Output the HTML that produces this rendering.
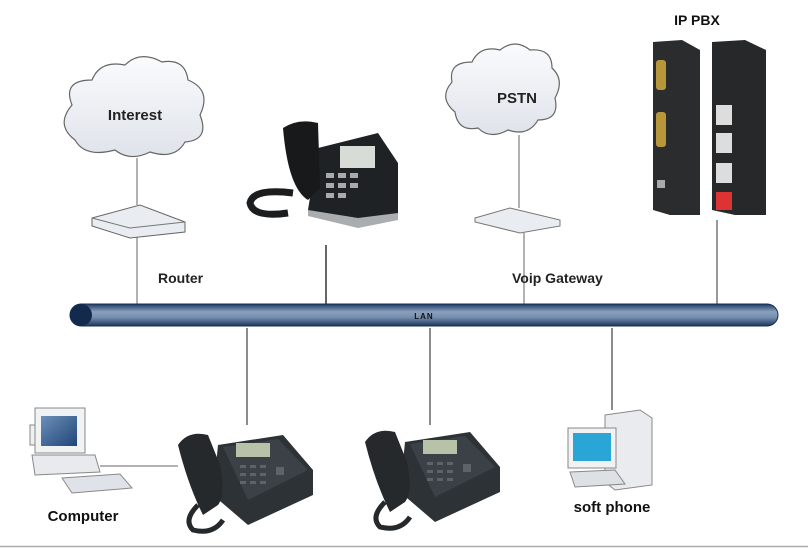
<!DOCTYPE html>
<html><head><meta charset="utf-8"><style>
html,body{margin:0;padding:0;background:#fff;}
svg{display:block;font-family:"Liberation Sans",sans-serif;}
</style></head><body>
<svg width="808" height="549" viewBox="0 0 808 549" xmlns="http://www.w3.org/2000/svg">
<defs>
<linearGradient id="bar" x1="0" y1="0" x2="0" y2="1">
<stop offset="0" stop-color="#1e3a66"/><stop offset="0.35" stop-color="#8a9fbb"/><stop offset="0.6" stop-color="#7890b0"/><stop offset="1" stop-color="#1b355f"/>
</linearGradient>
<linearGradient id="cl" x1="0" y1="0" x2="0" y2="1"><stop offset="0" stop-color="#fafbfd"/><stop offset="1" stop-color="#dfe3ea"/></linearGradient>
<linearGradient id="scr" x1="0" y1="0" x2="1" y2="1"><stop offset="0" stop-color="#6d8fb8"/><stop offset="1" stop-color="#1f4578"/></linearGradient>
<g id="phone">
<path d="M40 20 L105 10 L135 45 L135 70 L70 100 L35 70 Z" fill="#2d3236"/>
<path d="M45 22 L100 14 L130 45 L70 75 Z" fill="#3b4146"/>
<rect x="58" y="18" width="34" height="14" fill="#b7c2a8" transform="skew(-10)"/>
<path d="M0 20 Q10 5 30 10 L42 40 Q48 70 40 80 L25 90 Q10 60 0 20Z" fill="#25292c"/>
<path d="M20 80 Q5 95 15 105 Q35 110 45 95" fill="none" stroke="#25292c" stroke-width="5"/>
<g fill="#5c646a"><rect x="62" y="40" width="6" height="3"/><rect x="72" y="40" width="6" height="3"/><rect x="82" y="40" width="6" height="3"/><rect x="62" y="48" width="6" height="3"/><rect x="72" y="48" width="6" height="3"/><rect x="82" y="48" width="6" height="3"/><rect x="62" y="56" width="6" height="3"/><rect x="72" y="56" width="6" height="3"/><rect x="82" y="56" width="6" height="3"/><rect x="98" y="42" width="8" height="8"/></g>
</g>
</defs>
<rect width="808" height="549" fill="#fff"/>
<!-- connectors -->
<g stroke="#999" stroke-width="1.5" fill="none">
<line x1="137" y1="158" x2="137" y2="205"/>
<line x1="137" y1="232" x2="137" y2="305"/>
<line x1="519" y1="135" x2="519" y2="208"/>
<line x1="524" y1="233" x2="524" y2="305"/>
<line x1="717" y1="220" x2="717" y2="305" stroke="#777"/>
<line x1="326" y1="245" x2="326" y2="305" stroke="#333"/>
<line x1="247" y1="328" x2="247" y2="425" stroke="#666"/>
<line x1="430" y1="328" x2="430" y2="425" stroke="#666"/>
<line x1="612" y1="328" x2="612" y2="410" stroke="#666"/>
<line x1="100" y1="466" x2="178" y2="466"/>
</g>
<!-- LAN bar -->
<rect x="70" y="304" width="708" height="22" rx="11" fill="url(#bar)" stroke="#1a2f52" stroke-width="1"/>
<ellipse cx="81" cy="315" rx="11" ry="11" fill="#142a4c"/>
<text x="424" y="319" font-size="8" font-weight="bold" text-anchor="middle" fill="#111" letter-spacing="1">LAN</text>
<!-- clouds -->
<path d="M75 140 Q55 125 72 105 Q62 80 92 80 Q100 60 125 65 Q140 50 162 62 Q185 58 188 80 Q212 90 200 115 Q210 140 185 142 Q175 160 150 152 Q130 162 115 150 Q85 158 75 140Z" fill="url(#cl)" stroke="#666" stroke-width="1.2"/>
<text x="135" y="120" font-size="15" font-weight="bold" text-anchor="middle" fill="#222">Interest</text>
<path d="M455 112 Q438 98 452 82 Q448 62 472 62 Q480 45 500 50 Q515 38 530 50 Q552 48 552 68 Q565 80 555 98 Q560 120 538 120 Q528 137 508 130 Q490 140 478 128 Q458 132 455 112Z" fill="url(#cl)" stroke="#666" stroke-width="1.2"/>
<text x="517" y="103" font-size="15" font-weight="bold" text-anchor="middle" fill="#222">PSTN</text>
<!-- router -->
<path d="M92 218 L140 205 L185 222 L185 232 L130 238 L92 226Z" fill="#e9ecf1" stroke="#666"/>
<path d="M92 218 L130 228 L185 222" fill="none" stroke="#777"/>
<!-- gateway -->
<path d="M475 218 L510 208 L560 220 L560 226 L520 233 L475 222Z" fill="#e9ecf1" stroke="#777"/>
<!-- IP PBX -->
<text x="697" y="25" font-size="14" font-weight="bold" text-anchor="middle" fill="#111">IP PBX</text>
<path d="M653 42 L682 40 L700 50 L700 215 L670 215 L653 210Z" fill="#2a2c2e"/>
<rect x="656" y="60" width="10" height="30" rx="3" fill="#b8963a"/>
<rect x="656" y="112" width="10" height="35" rx="3" fill="#b8963a"/>
<rect x="657" y="180" width="8" height="8" fill="#aaa"/>
<path d="M712 42 L745 40 L766 50 L766 215 L735 215 L712 210Z" fill="#262829"/>
<rect x="716" y="105" width="16" height="20" fill="#ddd"/>
<rect x="716" y="133" width="16" height="20" fill="#ddd"/>
<rect x="716" y="163" width="16" height="20" fill="#ddd"/>
<rect x="716" y="192" width="16" height="18" fill="#d33"/>
<!-- desk phone top -->
<g transform="translate(248,118)">
<path d="M70 30 L130 15 L150 45 L150 100 L110 108 L60 92Z" fill="#1f2225"/>
<path d="M60 92 L110 100 L150 95 L150 102 L110 110 L60 98Z" fill="#a9adb0"/>
<rect x="92" y="28" width="35" height="22" fill="#d8dcd6"/>
<path d="M35 10 Q50 0 70 5 L72 70 L60 82 Q40 70 35 10Z" fill="#17191b"/>
<path d="M45 75 Q5 70 2 85 Q5 100 40 95" fill="none" stroke="#1b1d1f" stroke-width="7"/>
<g fill="#aaa"><rect x="78" y="55" width="8" height="5"/><rect x="90" y="55" width="8" height="5"/><rect x="102" y="55" width="8" height="5"/><rect x="78" y="65" width="8" height="5"/><rect x="90" y="65" width="8" height="5"/><rect x="102" y="65" width="8" height="5"/><rect x="78" y="75" width="8" height="5"/><rect x="90" y="75" width="8" height="5"/></g>
</g>
<text x="158" y="283" font-size="14" font-weight="bold" fill="#222">Router</text>
<text x="512" y="283" font-size="14" font-weight="bold" fill="#222">Voip Gateway</text>
<!-- lower phones -->
<g transform="translate(178,425)"><use href="#phone"/></g>
<g transform="translate(365,422)"><use href="#phone"/></g>
<!-- computer -->
<g>
<rect x="30" y="425" width="50" height="20" fill="#eef0f2" stroke="#888"/>
<rect x="35" y="408" width="50" height="45" fill="#f1f2f4" stroke="#888"/>
<rect x="41" y="416" width="36" height="30" fill="url(#scr)"/>
<path d="M32 455 L95 455 L100 472 L35 475Z" fill="#e8eaee" stroke="#888"/>
<path d="M62 478 L120 474 L132 488 L72 493Z" fill="#dfe2e8" stroke="#888"/>
</g>
<text x="83" y="521" font-size="15" font-weight="bold" text-anchor="middle" fill="#111">Computer</text>
<!-- soft phone PC -->
<g>
<path d="M605 415 L640 410 L652 418 L652 485 L615 490 L605 482Z" fill="#e9ebef" stroke="#888"/>
<rect x="568" y="428" width="48" height="40" fill="#f1f2f4" stroke="#888"/>
<rect x="573" y="433" width="38" height="28" fill="#2aa6d6"/>
<path d="M570 472 L615 470 L625 484 L575 487Z" fill="#dde0e5" stroke="#888"/>
</g>
<text x="612" y="512" font-size="15" font-weight="bold" text-anchor="middle" fill="#111">soft phone</text>
<line x1="0" y1="546.5" x2="808" y2="546.5" stroke="#aaa" stroke-width="1.5"/>
</svg>
</body></html>
